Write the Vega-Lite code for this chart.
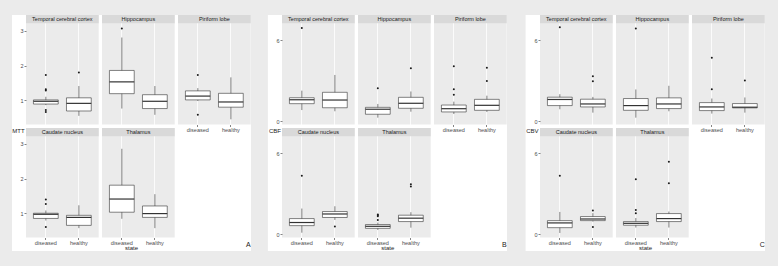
{
  "$schema": "https://vega.github.io/schema/vega-lite/v6.json",
  "background": "white",
  "padding": 0,
  "spacing": 0,
  "datasets": {
    "rows": [
      {"card":"A","region":"Temporal cerebral cortex","state":"diseased","kind":"box","lower":0.86,"q1":0.89,"median":0.97,"q3":1.01,"upper":1.10},
      {"card":"A","region":"Temporal cerebral cortex","state":"healthy","kind":"box","lower":0.55,"q1":0.69,"median":0.91,"q3":1.07,"upper":1.41},
      {"card":"A","region":"Hippocampus","state":"diseased","kind":"box","lower":0.76,"q1":1.19,"median":1.53,"q3":1.86,"upper":2.81},
      {"card":"A","region":"Hippocampus","state":"healthy","kind":"box","lower":0.58,"q1":0.76,"median":0.97,"q3":1.16,"upper":1.41},
      {"card":"A","region":"Piriform lobe","state":"diseased","kind":"box","lower":0.98,"q1":1.01,"median":1.12,"q3":1.27,"upper":1.35},
      {"card":"A","region":"Piriform lobe","state":"healthy","kind":"box","lower":0.45,"q1":0.80,"median":0.95,"q3":1.20,"upper":1.66},
      {"card":"A","region":"Caudate nucleus","state":"diseased","kind":"box","lower":0.79,"q1":0.85,"median":0.97,"q3":1.00,"upper":1.08},
      {"card":"A","region":"Caudate nucleus","state":"healthy","kind":"box","lower":0.57,"q1":0.65,"median":0.88,"q3":0.94,"upper":1.23},
      {"card":"A","region":"Thalamus","state":"diseased","kind":"box","lower":0.84,"q1":1.03,"median":1.41,"q3":1.81,"upper":2.86},
      {"card":"A","region":"Thalamus","state":"healthy","kind":"box","lower":0.57,"q1":0.88,"median":0.99,"q3":1.21,"upper":1.55},
      {"card":"A","region":"Temporal cerebral cortex","state":"diseased","kind":"out","value":1.73},
      {"card":"A","region":"Temporal cerebral cortex","state":"diseased","kind":"out","value":1.32},
      {"card":"A","region":"Temporal cerebral cortex","state":"diseased","kind":"out","value":1.28},
      {"card":"A","region":"Temporal cerebral cortex","state":"diseased","kind":"out","value":0.72},
      {"card":"A","region":"Temporal cerebral cortex","state":"diseased","kind":"out","value":0.66},
      {"card":"A","region":"Temporal cerebral cortex","state":"healthy","kind":"out","value":1.80},
      {"card":"A","region":"Hippocampus","state":"diseased","kind":"out","value":3.07},
      {"card":"A","region":"Piriform lobe","state":"diseased","kind":"out","value":1.73},
      {"card":"A","region":"Piriform lobe","state":"diseased","kind":"out","value":0.58},
      {"card":"A","region":"Caudate nucleus","state":"diseased","kind":"out","value":1.40},
      {"card":"A","region":"Caudate nucleus","state":"diseased","kind":"out","value":1.27},
      {"card":"A","region":"Caudate nucleus","state":"diseased","kind":"out","value":0.60},

      {"card":"B","region":"Temporal cerebral cortex","state":"diseased","kind":"box","lower":0.83,"q1":1.30,"median":1.59,"q3":1.74,"upper":2.26},
      {"card":"B","region":"Temporal cerebral cortex","state":"healthy","kind":"box","lower":0.74,"q1":1.00,"median":1.57,"q3":2.14,"upper":3.42},
      {"card":"B","region":"Hippocampus","state":"diseased","kind":"box","lower":0.27,"q1":0.52,"median":0.89,"q3":1.03,"upper":1.28},
      {"card":"B","region":"Hippocampus","state":"healthy","kind":"box","lower":0.71,"q1":0.96,"median":1.33,"q3":1.77,"upper":2.20},
      {"card":"B","region":"Piriform lobe","state":"diseased","kind":"box","lower":0.54,"q1":0.69,"median":0.93,"q3":1.20,"upper":1.45},
      {"card":"B","region":"Piriform lobe","state":"healthy","kind":"box","lower":0.69,"q1":0.81,"median":1.18,"q3":1.62,"upper":1.89},
      {"card":"B","region":"Caudate nucleus","state":"diseased","kind":"box","lower":0.12,"q1":0.64,"median":0.87,"q3":1.16,"upper":1.90},
      {"card":"B","region":"Caudate nucleus","state":"healthy","kind":"box","lower":1.06,"q1":1.24,"median":1.50,"q3":1.68,"upper":2.07},
      {"card":"B","region":"Thalamus","state":"diseased","kind":"box","lower":0.32,"q1":0.44,"median":0.59,"q3":0.72,"upper":0.86},
      {"card":"B","region":"Thalamus","state":"healthy","kind":"box","lower":0.49,"q1":0.94,"median":1.19,"q3":1.41,"upper":1.63},
      {"card":"B","region":"Temporal cerebral cortex","state":"diseased","kind":"out","value":6.89},
      {"card":"B","region":"Hippocampus","state":"diseased","kind":"out","value":2.44},
      {"card":"B","region":"Hippocampus","state":"healthy","kind":"out","value":3.91},
      {"card":"B","region":"Piriform lobe","state":"diseased","kind":"out","value":4.06},
      {"card":"B","region":"Piriform lobe","state":"diseased","kind":"out","value":2.36},
      {"card":"B","region":"Piriform lobe","state":"diseased","kind":"out","value":1.96},
      {"card":"B","region":"Piriform lobe","state":"healthy","kind":"out","value":3.96},
      {"card":"B","region":"Piriform lobe","state":"healthy","kind":"out","value":2.97},
      {"card":"B","region":"Caudate nucleus","state":"diseased","kind":"out","value":4.32},
      {"card":"B","region":"Caudate nucleus","state":"healthy","kind":"out","value":0.57},
      {"card":"B","region":"Thalamus","state":"diseased","kind":"out","value":1.46},
      {"card":"B","region":"Thalamus","state":"diseased","kind":"out","value":1.40},
      {"card":"B","region":"Thalamus","state":"diseased","kind":"out","value":1.33},
      {"card":"B","region":"Thalamus","state":"diseased","kind":"out","value":1.05},
      {"card":"B","region":"Thalamus","state":"healthy","kind":"out","value":3.70},
      {"card":"B","region":"Thalamus","state":"healthy","kind":"out","value":3.53},

      {"card":"C","region":"Temporal cerebral cortex","state":"diseased","kind":"box","lower":0.89,"q1":1.16,"median":1.61,"q3":1.78,"upper":2.00},
      {"card":"C","region":"Temporal cerebral cortex","state":"healthy","kind":"box","lower":0.64,"q1":1.06,"median":1.28,"q3":1.63,"upper":1.80},
      {"card":"C","region":"Hippocampus","state":"diseased","kind":"box","lower":0.27,"q1":0.81,"median":1.16,"q3":1.68,"upper":2.35},
      {"card":"C","region":"Hippocampus","state":"healthy","kind":"box","lower":0.74,"q1":0.94,"median":1.28,"q3":1.73,"upper":2.62},
      {"card":"C","region":"Piriform lobe","state":"diseased","kind":"box","lower":0.57,"q1":0.79,"median":1.06,"q3":1.38,"upper":1.68},
      {"card":"C","region":"Piriform lobe","state":"healthy","kind":"box","lower":0.64,"q1":0.99,"median":1.04,"q3":1.31,"upper":1.76},
      {"card":"C","region":"Caudate nucleus","state":"diseased","kind":"box","lower":0.10,"q1":0.49,"median":0.84,"q3":1.01,"upper":1.65},
      {"card":"C","region":"Caudate nucleus","state":"healthy","kind":"box","lower":0.94,"q1":1.01,"median":1.13,"q3":1.31,"upper":1.56},
      {"card":"C","region":"Thalamus","state":"diseased","kind":"box","lower":0.50,"q1":0.67,"median":0.81,"q3":0.94,"upper":1.20},
      {"card":"C","region":"Thalamus","state":"healthy","kind":"box","lower":0.50,"q1":0.94,"median":1.16,"q3":1.53,"upper":1.68},
      {"card":"C","region":"Temporal cerebral cortex","state":"diseased","kind":"out","value":6.94},
      {"card":"C","region":"Temporal cerebral cortex","state":"healthy","kind":"out","value":3.33},
      {"card":"C","region":"Temporal cerebral cortex","state":"healthy","kind":"out","value":2.96},
      {"card":"C","region":"Hippocampus","state":"diseased","kind":"out","value":6.84},
      {"card":"C","region":"Piriform lobe","state":"diseased","kind":"out","value":4.69},
      {"card":"C","region":"Piriform lobe","state":"diseased","kind":"out","value":2.37},
      {"card":"C","region":"Piriform lobe","state":"healthy","kind":"out","value":3.01},
      {"card":"C","region":"Caudate nucleus","state":"diseased","kind":"out","value":4.32},
      {"card":"C","region":"Caudate nucleus","state":"healthy","kind":"out","value":1.76},
      {"card":"C","region":"Caudate nucleus","state":"healthy","kind":"out","value":0.54},
      {"card":"C","region":"Thalamus","state":"diseased","kind":"out","value":4.07},
      {"card":"C","region":"Thalamus","state":"diseased","kind":"out","value":1.80},
      {"card":"C","region":"Thalamus","state":"diseased","kind":"out","value":1.56},
      {"card":"C","region":"Thalamus","state":"healthy","kind":"out","value":5.36},
      {"card":"C","region":"Thalamus","state":"healthy","kind":"out","value":3.76}
    ]
  },
  "vconcat": [
    {"width": 778, "height": 15, "view": {"fill": "#ebebeb", "stroke": null}, "data": {"values": [{}]}, "mark": {"type": "point", "opacity": 0}},
    {
      "spacing": 0,
      "hconcat": [
        {"width": 12, "height": 236, "view": {"fill": "#ebebeb", "stroke": null}, "data": {"values": [{}]}, "mark": {"type": "point", "opacity": 0}},
        {
          "title": {"text": "A", "orient": "bottom", "anchor": "end", "offset": -10, "fontSize": 7},
          "vconcat": [{
            "title": {"text": "state", "orient": "bottom", "anchor": "middle", "offset": -1, "fontSize": 6},
            "vconcat": [{
              "title": {"text": "MTT", "orient": "left", "anchor": "middle", "angle": 0, "align": "right", "baseline": "middle", "offset": -17, "fontSize": 6},
              "columns": 3, "spacing": 3, "bounds": "flush",
              "concat": [
                {"data": {"name": "rows"}, "transform": [{"filter": "datum.card == 'A' && datum.region == 'Temporal cerebral cortex'"}], "width": 72.7, "height": 109.5,
                 "layer": [
                  {"transform": [{"filter": "datum.kind == 'box' && datum.state == 'diseased'"}], "mark": "rect",
                   "encoding": {"y": {"datum": 3.22, "type": "quantitative", "title": null, "scale": {"domain": [0.3, 3.46], "nice": false, "zero": false}, "axis": {"values": [1, 2, 3]}}, "y2": {"datum": 3.46}}},
                  {"transform": [{"filter": "datum.kind == 'box' && datum.state == 'diseased'"}], "mark": "text",
                   "encoding": {"text": {"field": "region"}, "y": {"datum": 3.34, "type": "quantitative", "title": null}}},
                  {"transform": [{"filter": "datum.kind == 'box'"}], "mark": "rule",
                   "encoding": {"x": {"field": "state", "type": "nominal", "title": null, "scale": {"domain": ["diseased", "healthy"], "paddingInner": 0.25, "paddingOuter": 0.225}, "axis": {"labels": false, "ticks": false}},
                     "y": {"field": "lower", "type": "quantitative", "title": null}, "y2": {"field": "upper"}}},
                  {"transform": [{"filter": "datum.kind == 'box'"}], "mark": "bar",
                   "encoding": {"x": {"field": "state", "type": "nominal", "title": null}, "y": {"field": "q1", "type": "quantitative", "title": null}, "y2": {"field": "q3"}}},
                  {"transform": [{"filter": "datum.kind == 'box'"}], "mark": "tick",
                   "encoding": {"x": {"field": "state", "type": "nominal", "title": null}, "y": {"field": "median", "type": "quantitative", "title": null}}},
                  {"transform": [{"filter": "datum.kind == 'out'"}], "mark": "circle",
                   "encoding": {"x": {"field": "state", "type": "nominal", "title": null}, "y": {"field": "value", "type": "quantitative", "title": null}}}
                 ]},
                {"data": {"name": "rows"}, "transform": [{"filter": "datum.card == 'A' && datum.region == 'Hippocampus'"}], "width": 72.7, "height": 109.5,
                 "layer": [
                  {"transform": [{"filter": "datum.kind == 'box' && datum.state == 'diseased'"}], "mark": "rect",
                   "encoding": {"y": {"datum": 3.22, "type": "quantitative", "title": null, "scale": {"domain": [0.3, 3.46], "nice": false, "zero": false}, "axis": {"values": [1, 2, 3], "labels": false, "ticks": false}}, "y2": {"datum": 3.46}}},
                  {"transform": [{"filter": "datum.kind == 'box' && datum.state == 'diseased'"}], "mark": "text",
                   "encoding": {"text": {"field": "region"}, "y": {"datum": 3.34, "type": "quantitative", "title": null}}},
                  {"transform": [{"filter": "datum.kind == 'box'"}], "mark": "rule",
                   "encoding": {"x": {"field": "state", "type": "nominal", "title": null, "scale": {"domain": ["diseased", "healthy"], "paddingInner": 0.25, "paddingOuter": 0.225}, "axis": {"labels": false, "ticks": false}},
                     "y": {"field": "lower", "type": "quantitative", "title": null}, "y2": {"field": "upper"}}},
                  {"transform": [{"filter": "datum.kind == 'box'"}], "mark": "bar",
                   "encoding": {"x": {"field": "state", "type": "nominal", "title": null}, "y": {"field": "q1", "type": "quantitative", "title": null}, "y2": {"field": "q3"}}},
                  {"transform": [{"filter": "datum.kind == 'box'"}], "mark": "tick",
                   "encoding": {"x": {"field": "state", "type": "nominal", "title": null}, "y": {"field": "median", "type": "quantitative", "title": null}}},
                  {"transform": [{"filter": "datum.kind == 'out'"}], "mark": "circle",
                   "encoding": {"x": {"field": "state", "type": "nominal", "title": null}, "y": {"field": "value", "type": "quantitative", "title": null}}}
                 ]},
                {"data": {"name": "rows"}, "transform": [{"filter": "datum.card == 'A' && datum.region == 'Piriform lobe'"}], "width": 72.7, "height": 109.5,
                 "layer": [
                  {"transform": [{"filter": "datum.kind == 'box' && datum.state == 'diseased'"}], "mark": "rect",
                   "encoding": {"y": {"datum": 3.22, "type": "quantitative", "title": null, "scale": {"domain": [0.3, 3.46], "nice": false, "zero": false}, "axis": {"values": [1, 2, 3], "labels": false, "ticks": false}}, "y2": {"datum": 3.46}}},
                  {"transform": [{"filter": "datum.kind == 'box' && datum.state == 'diseased'"}], "mark": "text",
                   "encoding": {"text": {"field": "region"}, "y": {"datum": 3.34, "type": "quantitative", "title": null}}},
                  {"transform": [{"filter": "datum.kind == 'box'"}], "mark": "rule",
                   "encoding": {"x": {"field": "state", "type": "nominal", "title": null, "scale": {"domain": ["diseased", "healthy"], "paddingInner": 0.25, "paddingOuter": 0.225}},
                     "y": {"field": "lower", "type": "quantitative", "title": null}, "y2": {"field": "upper"}}},
                  {"transform": [{"filter": "datum.kind == 'box'"}], "mark": "bar",
                   "encoding": {"x": {"field": "state", "type": "nominal", "title": null}, "y": {"field": "q1", "type": "quantitative", "title": null}, "y2": {"field": "q3"}}},
                  {"transform": [{"filter": "datum.kind == 'box'"}], "mark": "tick",
                   "encoding": {"x": {"field": "state", "type": "nominal", "title": null}, "y": {"field": "median", "type": "quantitative", "title": null}}},
                  {"transform": [{"filter": "datum.kind == 'out'"}], "mark": "circle",
                   "encoding": {"x": {"field": "state", "type": "nominal", "title": null}, "y": {"field": "value", "type": "quantitative", "title": null}}}
                 ]},
                {"data": {"name": "rows"}, "transform": [{"filter": "datum.card == 'A' && datum.region == 'Caudate nucleus'"}], "width": 72.7, "height": 109.5,
                 "layer": [
                  {"transform": [{"filter": "datum.kind == 'box' && datum.state == 'diseased'"}], "mark": "rect",
                   "encoding": {"y": {"datum": 3.22, "type": "quantitative", "title": null, "scale": {"domain": [0.3, 3.46], "nice": false, "zero": false}, "axis": {"values": [1, 2, 3]}}, "y2": {"datum": 3.46}}},
                  {"transform": [{"filter": "datum.kind == 'box' && datum.state == 'diseased'"}], "mark": "text",
                   "encoding": {"text": {"field": "region"}, "y": {"datum": 3.34, "type": "quantitative", "title": null}}},
                  {"transform": [{"filter": "datum.kind == 'box'"}], "mark": "rule",
                   "encoding": {"x": {"field": "state", "type": "nominal", "title": null, "scale": {"domain": ["diseased", "healthy"], "paddingInner": 0.25, "paddingOuter": 0.225}},
                     "y": {"field": "lower", "type": "quantitative", "title": null}, "y2": {"field": "upper"}}},
                  {"transform": [{"filter": "datum.kind == 'box'"}], "mark": "bar",
                   "encoding": {"x": {"field": "state", "type": "nominal", "title": null}, "y": {"field": "q1", "type": "quantitative", "title": null}, "y2": {"field": "q3"}}},
                  {"transform": [{"filter": "datum.kind == 'box'"}], "mark": "tick",
                   "encoding": {"x": {"field": "state", "type": "nominal", "title": null}, "y": {"field": "median", "type": "quantitative", "title": null}}},
                  {"transform": [{"filter": "datum.kind == 'out'"}], "mark": "circle",
                   "encoding": {"x": {"field": "state", "type": "nominal", "title": null}, "y": {"field": "value", "type": "quantitative", "title": null}}}
                 ]},
                {"data": {"name": "rows"}, "transform": [{"filter": "datum.card == 'A' && datum.region == 'Thalamus'"}], "width": 72.7, "height": 109.5,
                 "layer": [
                  {"transform": [{"filter": "datum.kind == 'box' && datum.state == 'diseased'"}], "mark": "rect",
                   "encoding": {"y": {"datum": 3.22, "type": "quantitative", "title": null, "scale": {"domain": [0.3, 3.46], "nice": false, "zero": false}, "axis": {"values": [1, 2, 3], "labels": false, "ticks": false}}, "y2": {"datum": 3.46}}},
                  {"transform": [{"filter": "datum.kind == 'box' && datum.state == 'diseased'"}], "mark": "text",
                   "encoding": {"text": {"field": "region"}, "y": {"datum": 3.34, "type": "quantitative", "title": null}}},
                  {"transform": [{"filter": "datum.kind == 'box'"}], "mark": "rule",
                   "encoding": {"x": {"field": "state", "type": "nominal", "title": null, "scale": {"domain": ["diseased", "healthy"], "paddingInner": 0.25, "paddingOuter": 0.225}},
                     "y": {"field": "lower", "type": "quantitative", "title": null}, "y2": {"field": "upper"}}},
                  {"transform": [{"filter": "datum.kind == 'box'"}], "mark": "bar",
                   "encoding": {"x": {"field": "state", "type": "nominal", "title": null}, "y": {"field": "q1", "type": "quantitative", "title": null}, "y2": {"field": "q3"}}},
                  {"transform": [{"filter": "datum.kind == 'box'"}], "mark": "tick",
                   "encoding": {"x": {"field": "state", "type": "nominal", "title": null}, "y": {"field": "median", "type": "quantitative", "title": null}}},
                  {"transform": [{"filter": "datum.kind == 'out'"}], "mark": "circle",
                   "encoding": {"x": {"field": "state", "type": "nominal", "title": null}, "y": {"field": "value", "type": "quantitative", "title": null}}}
                 ]}
              ]
            }]
          }]
        },
        {"width": 16.9, "height": 236, "view": {"fill": "#ebebeb", "stroke": null}, "data": {"values": [{}]}, "mark": {"type": "point", "opacity": 0}},
        {
          "title": {"text": "B", "orient": "bottom", "anchor": "end", "offset": -10, "fontSize": 7},
          "vconcat": [{
            "title": {"text": "state", "orient": "bottom", "anchor": "middle", "offset": -1, "fontSize": 6},
            "vconcat": [{
              "title": {"text": "CBF", "orient": "left", "anchor": "middle", "angle": 0, "align": "right", "baseline": "middle", "offset": -17, "fontSize": 6},
              "columns": 3, "spacing": 3, "bounds": "flush",
              "concat": [
                {"data": {"name": "rows"}, "transform": [{"filter": "datum.card == 'B' && datum.region == 'Temporal cerebral cortex'"}], "width": 72.7, "height": 109.5,
                 "layer": [
                  {"transform": [{"filter": "datum.kind == 'box' && datum.state == 'diseased'"}], "mark": "rect",
                   "encoding": {"y": {"datum": 7.232, "type": "quantitative", "title": null, "scale": {"domain": [-0.236, 7.845], "nice": false, "zero": false}, "axis": {"values": [0, 2, 4, 6]}}, "y2": {"datum": 7.845}}},
                  {"transform": [{"filter": "datum.kind == 'box' && datum.state == 'diseased'"}], "mark": "text",
                   "encoding": {"text": {"field": "region"}, "y": {"datum": 7.54, "type": "quantitative", "title": null}}},
                  {"transform": [{"filter": "datum.kind == 'box'"}], "mark": "rule",
                   "encoding": {"x": {"field": "state", "type": "nominal", "title": null, "scale": {"domain": ["diseased", "healthy"], "paddingInner": 0.25, "paddingOuter": 0.225}, "axis": {"labels": false, "ticks": false}},
                     "y": {"field": "lower", "type": "quantitative", "title": null}, "y2": {"field": "upper"}}},
                  {"transform": [{"filter": "datum.kind == 'box'"}], "mark": "bar",
                   "encoding": {"x": {"field": "state", "type": "nominal", "title": null}, "y": {"field": "q1", "type": "quantitative", "title": null}, "y2": {"field": "q3"}}},
                  {"transform": [{"filter": "datum.kind == 'box'"}], "mark": "tick",
                   "encoding": {"x": {"field": "state", "type": "nominal", "title": null}, "y": {"field": "median", "type": "quantitative", "title": null}}},
                  {"transform": [{"filter": "datum.kind == 'out'"}], "mark": "circle",
                   "encoding": {"x": {"field": "state", "type": "nominal", "title": null}, "y": {"field": "value", "type": "quantitative", "title": null}}}
                 ]},
                {"data": {"name": "rows"}, "transform": [{"filter": "datum.card == 'B' && datum.region == 'Hippocampus'"}], "width": 72.7, "height": 109.5,
                 "layer": [
                  {"transform": [{"filter": "datum.kind == 'box' && datum.state == 'diseased'"}], "mark": "rect",
                   "encoding": {"y": {"datum": 7.232, "type": "quantitative", "title": null, "scale": {"domain": [-0.236, 7.845], "nice": false, "zero": false}, "axis": {"values": [0, 2, 4, 6], "labels": false, "ticks": false}}, "y2": {"datum": 7.845}}},
                  {"transform": [{"filter": "datum.kind == 'box' && datum.state == 'diseased'"}], "mark": "text",
                   "encoding": {"text": {"field": "region"}, "y": {"datum": 7.54, "type": "quantitative", "title": null}}},
                  {"transform": [{"filter": "datum.kind == 'box'"}], "mark": "rule",
                   "encoding": {"x": {"field": "state", "type": "nominal", "title": null, "scale": {"domain": ["diseased", "healthy"], "paddingInner": 0.25, "paddingOuter": 0.225}, "axis": {"labels": false, "ticks": false}},
                     "y": {"field": "lower", "type": "quantitative", "title": null}, "y2": {"field": "upper"}}},
                  {"transform": [{"filter": "datum.kind == 'box'"}], "mark": "bar",
                   "encoding": {"x": {"field": "state", "type": "nominal", "title": null}, "y": {"field": "q1", "type": "quantitative", "title": null}, "y2": {"field": "q3"}}},
                  {"transform": [{"filter": "datum.kind == 'box'"}], "mark": "tick",
                   "encoding": {"x": {"field": "state", "type": "nominal", "title": null}, "y": {"field": "median", "type": "quantitative", "title": null}}},
                  {"transform": [{"filter": "datum.kind == 'out'"}], "mark": "circle",
                   "encoding": {"x": {"field": "state", "type": "nominal", "title": null}, "y": {"field": "value", "type": "quantitative", "title": null}}}
                 ]},
                {"data": {"name": "rows"}, "transform": [{"filter": "datum.card == 'B' && datum.region == 'Piriform lobe'"}], "width": 72.7, "height": 109.5,
                 "layer": [
                  {"transform": [{"filter": "datum.kind == 'box' && datum.state == 'diseased'"}], "mark": "rect",
                   "encoding": {"y": {"datum": 7.232, "type": "quantitative", "title": null, "scale": {"domain": [-0.236, 7.845], "nice": false, "zero": false}, "axis": {"values": [0, 2, 4, 6], "labels": false, "ticks": false}}, "y2": {"datum": 7.845}}},
                  {"transform": [{"filter": "datum.kind == 'box' && datum.state == 'diseased'"}], "mark": "text",
                   "encoding": {"text": {"field": "region"}, "y": {"datum": 7.54, "type": "quantitative", "title": null}}},
                  {"transform": [{"filter": "datum.kind == 'box'"}], "mark": "rule",
                   "encoding": {"x": {"field": "state", "type": "nominal", "title": null, "scale": {"domain": ["diseased", "healthy"], "paddingInner": 0.25, "paddingOuter": 0.225}},
                     "y": {"field": "lower", "type": "quantitative", "title": null}, "y2": {"field": "upper"}}},
                  {"transform": [{"filter": "datum.kind == 'box'"}], "mark": "bar",
                   "encoding": {"x": {"field": "state", "type": "nominal", "title": null}, "y": {"field": "q1", "type": "quantitative", "title": null}, "y2": {"field": "q3"}}},
                  {"transform": [{"filter": "datum.kind == 'box'"}], "mark": "tick",
                   "encoding": {"x": {"field": "state", "type": "nominal", "title": null}, "y": {"field": "median", "type": "quantitative", "title": null}}},
                  {"transform": [{"filter": "datum.kind == 'out'"}], "mark": "circle",
                   "encoding": {"x": {"field": "state", "type": "nominal", "title": null}, "y": {"field": "value", "type": "quantitative", "title": null}}}
                 ]},
                {"data": {"name": "rows"}, "transform": [{"filter": "datum.card == 'B' && datum.region == 'Caudate nucleus'"}], "width": 72.7, "height": 109.5,
                 "layer": [
                  {"transform": [{"filter": "datum.kind == 'box' && datum.state == 'diseased'"}], "mark": "rect",
                   "encoding": {"y": {"datum": 7.232, "type": "quantitative", "title": null, "scale": {"domain": [-0.236, 7.845], "nice": false, "zero": false}, "axis": {"values": [0, 2, 4, 6]}}, "y2": {"datum": 7.845}}},
                  {"transform": [{"filter": "datum.kind == 'box' && datum.state == 'diseased'"}], "mark": "text",
                   "encoding": {"text": {"field": "region"}, "y": {"datum": 7.54, "type": "quantitative", "title": null}}},
                  {"transform": [{"filter": "datum.kind == 'box'"}], "mark": "rule",
                   "encoding": {"x": {"field": "state", "type": "nominal", "title": null, "scale": {"domain": ["diseased", "healthy"], "paddingInner": 0.25, "paddingOuter": 0.225}},
                     "y": {"field": "lower", "type": "quantitative", "title": null}, "y2": {"field": "upper"}}},
                  {"transform": [{"filter": "datum.kind == 'box'"}], "mark": "bar",
                   "encoding": {"x": {"field": "state", "type": "nominal", "title": null}, "y": {"field": "q1", "type": "quantitative", "title": null}, "y2": {"field": "q3"}}},
                  {"transform": [{"filter": "datum.kind == 'box'"}], "mark": "tick",
                   "encoding": {"x": {"field": "state", "type": "nominal", "title": null}, "y": {"field": "median", "type": "quantitative", "title": null}}},
                  {"transform": [{"filter": "datum.kind == 'out'"}], "mark": "circle",
                   "encoding": {"x": {"field": "state", "type": "nominal", "title": null}, "y": {"field": "value", "type": "quantitative", "title": null}}}
                 ]},
                {"data": {"name": "rows"}, "transform": [{"filter": "datum.card == 'B' && datum.region == 'Thalamus'"}], "width": 72.7, "height": 109.5,
                 "layer": [
                  {"transform": [{"filter": "datum.kind == 'box' && datum.state == 'diseased'"}], "mark": "rect",
                   "encoding": {"y": {"datum": 7.232, "type": "quantitative", "title": null, "scale": {"domain": [-0.236, 7.845], "nice": false, "zero": false}, "axis": {"values": [0, 2, 4, 6], "labels": false, "ticks": false}}, "y2": {"datum": 7.845}}},
                  {"transform": [{"filter": "datum.kind == 'box' && datum.state == 'diseased'"}], "mark": "text",
                   "encoding": {"text": {"field": "region"}, "y": {"datum": 7.54, "type": "quantitative", "title": null}}},
                  {"transform": [{"filter": "datum.kind == 'box'"}], "mark": "rule",
                   "encoding": {"x": {"field": "state", "type": "nominal", "title": null, "scale": {"domain": ["diseased", "healthy"], "paddingInner": 0.25, "paddingOuter": 0.225}},
                     "y": {"field": "lower", "type": "quantitative", "title": null}, "y2": {"field": "upper"}}},
                  {"transform": [{"filter": "datum.kind == 'box'"}], "mark": "bar",
                   "encoding": {"x": {"field": "state", "type": "nominal", "title": null}, "y": {"field": "q1", "type": "quantitative", "title": null}, "y2": {"field": "q3"}}},
                  {"transform": [{"filter": "datum.kind == 'box'"}], "mark": "tick",
                   "encoding": {"x": {"field": "state", "type": "nominal", "title": null}, "y": {"field": "median", "type": "quantitative", "title": null}}},
                  {"transform": [{"filter": "datum.kind == 'out'"}], "mark": "circle",
                   "encoding": {"x": {"field": "state", "type": "nominal", "title": null}, "y": {"field": "value", "type": "quantitative", "title": null}}}
                 ]}
              ]
            }]
          }]
        },
        {"width": 18.6, "height": 236, "view": {"fill": "#ebebeb", "stroke": null}, "data": {"values": [{}]}, "mark": {"type": "point", "opacity": 0}},
        {
          "title": {"text": "C", "orient": "bottom", "anchor": "end", "offset": -10, "fontSize": 7},
          "vconcat": [{
            "title": {"text": "state", "orient": "bottom", "anchor": "middle", "offset": -1, "fontSize": 6},
            "vconcat": [{
              "title": {"text": "CBV", "orient": "left", "anchor": "middle", "angle": 0, "align": "right", "baseline": "middle", "offset": -17, "fontSize": 6},
              "columns": 3, "spacing": 3, "bounds": "flush",
              "concat": [
                {"data": {"name": "rows"}, "transform": [{"filter": "datum.card == 'C' && datum.region == 'Temporal cerebral cortex'"}], "width": 72.7, "height": 109.5,
                 "layer": [
                  {"transform": [{"filter": "datum.kind == 'box' && datum.state == 'diseased'"}], "mark": "rect",
                   "encoding": {"y": {"datum": 7.232, "type": "quantitative", "title": null, "scale": {"domain": [-0.236, 7.845], "nice": false, "zero": false}, "axis": {"values": [0, 2, 4, 6]}}, "y2": {"datum": 7.845}}},
                  {"transform": [{"filter": "datum.kind == 'box' && datum.state == 'diseased'"}], "mark": "text",
                   "encoding": {"text": {"field": "region"}, "y": {"datum": 7.54, "type": "quantitative", "title": null}}},
                  {"transform": [{"filter": "datum.kind == 'box'"}], "mark": "rule",
                   "encoding": {"x": {"field": "state", "type": "nominal", "title": null, "scale": {"domain": ["diseased", "healthy"], "paddingInner": 0.25, "paddingOuter": 0.225}, "axis": {"labels": false, "ticks": false}},
                     "y": {"field": "lower", "type": "quantitative", "title": null}, "y2": {"field": "upper"}}},
                  {"transform": [{"filter": "datum.kind == 'box'"}], "mark": "bar",
                   "encoding": {"x": {"field": "state", "type": "nominal", "title": null}, "y": {"field": "q1", "type": "quantitative", "title": null}, "y2": {"field": "q3"}}},
                  {"transform": [{"filter": "datum.kind == 'box'"}], "mark": "tick",
                   "encoding": {"x": {"field": "state", "type": "nominal", "title": null}, "y": {"field": "median", "type": "quantitative", "title": null}}},
                  {"transform": [{"filter": "datum.kind == 'out'"}], "mark": "circle",
                   "encoding": {"x": {"field": "state", "type": "nominal", "title": null}, "y": {"field": "value", "type": "quantitative", "title": null}}}
                 ]},
                {"data": {"name": "rows"}, "transform": [{"filter": "datum.card == 'C' && datum.region == 'Hippocampus'"}], "width": 72.7, "height": 109.5,
                 "layer": [
                  {"transform": [{"filter": "datum.kind == 'box' && datum.state == 'diseased'"}], "mark": "rect",
                   "encoding": {"y": {"datum": 7.232, "type": "quantitative", "title": null, "scale": {"domain": [-0.236, 7.845], "nice": false, "zero": false}, "axis": {"values": [0, 2, 4, 6], "labels": false, "ticks": false}}, "y2": {"datum": 7.845}}},
                  {"transform": [{"filter": "datum.kind == 'box' && datum.state == 'diseased'"}], "mark": "text",
                   "encoding": {"text": {"field": "region"}, "y": {"datum": 7.54, "type": "quantitative", "title": null}}},
                  {"transform": [{"filter": "datum.kind == 'box'"}], "mark": "rule",
                   "encoding": {"x": {"field": "state", "type": "nominal", "title": null, "scale": {"domain": ["diseased", "healthy"], "paddingInner": 0.25, "paddingOuter": 0.225}, "axis": {"labels": false, "ticks": false}},
                     "y": {"field": "lower", "type": "quantitative", "title": null}, "y2": {"field": "upper"}}},
                  {"transform": [{"filter": "datum.kind == 'box'"}], "mark": "bar",
                   "encoding": {"x": {"field": "state", "type": "nominal", "title": null}, "y": {"field": "q1", "type": "quantitative", "title": null}, "y2": {"field": "q3"}}},
                  {"transform": [{"filter": "datum.kind == 'box'"}], "mark": "tick",
                   "encoding": {"x": {"field": "state", "type": "nominal", "title": null}, "y": {"field": "median", "type": "quantitative", "title": null}}},
                  {"transform": [{"filter": "datum.kind == 'out'"}], "mark": "circle",
                   "encoding": {"x": {"field": "state", "type": "nominal", "title": null}, "y": {"field": "value", "type": "quantitative", "title": null}}}
                 ]},
                {"data": {"name": "rows"}, "transform": [{"filter": "datum.card == 'C' && datum.region == 'Piriform lobe'"}], "width": 72.7, "height": 109.5,
                 "layer": [
                  {"transform": [{"filter": "datum.kind == 'box' && datum.state == 'diseased'"}], "mark": "rect",
                   "encoding": {"y": {"datum": 7.232, "type": "quantitative", "title": null, "scale": {"domain": [-0.236, 7.845], "nice": false, "zero": false}, "axis": {"values": [0, 2, 4, 6], "labels": false, "ticks": false}}, "y2": {"datum": 7.845}}},
                  {"transform": [{"filter": "datum.kind == 'box' && datum.state == 'diseased'"}], "mark": "text",
                   "encoding": {"text": {"field": "region"}, "y": {"datum": 7.54, "type": "quantitative", "title": null}}},
                  {"transform": [{"filter": "datum.kind == 'box'"}], "mark": "rule",
                   "encoding": {"x": {"field": "state", "type": "nominal", "title": null, "scale": {"domain": ["diseased", "healthy"], "paddingInner": 0.25, "paddingOuter": 0.225}},
                     "y": {"field": "lower", "type": "quantitative", "title": null}, "y2": {"field": "upper"}}},
                  {"transform": [{"filter": "datum.kind == 'box'"}], "mark": "bar",
                   "encoding": {"x": {"field": "state", "type": "nominal", "title": null}, "y": {"field": "q1", "type": "quantitative", "title": null}, "y2": {"field": "q3"}}},
                  {"transform": [{"filter": "datum.kind == 'box'"}], "mark": "tick",
                   "encoding": {"x": {"field": "state", "type": "nominal", "title": null}, "y": {"field": "median", "type": "quantitative", "title": null}}},
                  {"transform": [{"filter": "datum.kind == 'out'"}], "mark": "circle",
                   "encoding": {"x": {"field": "state", "type": "nominal", "title": null}, "y": {"field": "value", "type": "quantitative", "title": null}}}
                 ]},
                {"data": {"name": "rows"}, "transform": [{"filter": "datum.card == 'C' && datum.region == 'Caudate nucleus'"}], "width": 72.7, "height": 109.5,
                 "layer": [
                  {"transform": [{"filter": "datum.kind == 'box' && datum.state == 'diseased'"}], "mark": "rect",
                   "encoding": {"y": {"datum": 7.232, "type": "quantitative", "title": null, "scale": {"domain": [-0.236, 7.845], "nice": false, "zero": false}, "axis": {"values": [0, 2, 4, 6]}}, "y2": {"datum": 7.845}}},
                  {"transform": [{"filter": "datum.kind == 'box' && datum.state == 'diseased'"}], "mark": "text",
                   "encoding": {"text": {"field": "region"}, "y": {"datum": 7.54, "type": "quantitative", "title": null}}},
                  {"transform": [{"filter": "datum.kind == 'box'"}], "mark": "rule",
                   "encoding": {"x": {"field": "state", "type": "nominal", "title": null, "scale": {"domain": ["diseased", "healthy"], "paddingInner": 0.25, "paddingOuter": 0.225}},
                     "y": {"field": "lower", "type": "quantitative", "title": null}, "y2": {"field": "upper"}}},
                  {"transform": [{"filter": "datum.kind == 'box'"}], "mark": "bar",
                   "encoding": {"x": {"field": "state", "type": "nominal", "title": null}, "y": {"field": "q1", "type": "quantitative", "title": null}, "y2": {"field": "q3"}}},
                  {"transform": [{"filter": "datum.kind == 'box'"}], "mark": "tick",
                   "encoding": {"x": {"field": "state", "type": "nominal", "title": null}, "y": {"field": "median", "type": "quantitative", "title": null}}},
                  {"transform": [{"filter": "datum.kind == 'out'"}], "mark": "circle",
                   "encoding": {"x": {"field": "state", "type": "nominal", "title": null}, "y": {"field": "value", "type": "quantitative", "title": null}}}
                 ]},
                {"data": {"name": "rows"}, "transform": [{"filter": "datum.card == 'C' && datum.region == 'Thalamus'"}], "width": 72.7, "height": 109.5,
                 "layer": [
                  {"transform": [{"filter": "datum.kind == 'box' && datum.state == 'diseased'"}], "mark": "rect",
                   "encoding": {"y": {"datum": 7.232, "type": "quantitative", "title": null, "scale": {"domain": [-0.236, 7.845], "nice": false, "zero": false}, "axis": {"values": [0, 2, 4, 6], "labels": false, "ticks": false}}, "y2": {"datum": 7.845}}},
                  {"transform": [{"filter": "datum.kind == 'box' && datum.state == 'diseased'"}], "mark": "text",
                   "encoding": {"text": {"field": "region"}, "y": {"datum": 7.54, "type": "quantitative", "title": null}}},
                  {"transform": [{"filter": "datum.kind == 'box'"}], "mark": "rule",
                   "encoding": {"x": {"field": "state", "type": "nominal", "title": null, "scale": {"domain": ["diseased", "healthy"], "paddingInner": 0.25, "paddingOuter": 0.225}},
                     "y": {"field": "lower", "type": "quantitative", "title": null}, "y2": {"field": "upper"}}},
                  {"transform": [{"filter": "datum.kind == 'box'"}], "mark": "bar",
                   "encoding": {"x": {"field": "state", "type": "nominal", "title": null}, "y": {"field": "q1", "type": "quantitative", "title": null}, "y2": {"field": "q3"}}},
                  {"transform": [{"filter": "datum.kind == 'box'"}], "mark": "tick",
                   "encoding": {"x": {"field": "state", "type": "nominal", "title": null}, "y": {"field": "median", "type": "quantitative", "title": null}}},
                  {"transform": [{"filter": "datum.kind == 'out'"}], "mark": "circle",
                   "encoding": {"x": {"field": "state", "type": "nominal", "title": null}, "y": {"field": "value", "type": "quantitative", "title": null}}}
                 ]}
              ]
            }]
          }]
        },
        {"width": 16.2, "height": 236, "view": {"fill": "#ebebeb", "stroke": null}, "data": {"values": [{}]}, "mark": {"type": "point", "opacity": 0}}
      ]
    },
    {"width": 778, "height": 15, "view": {"fill": "#ebebeb", "stroke": null}, "data": {"values": [{}]}, "mark": {"type": "point", "opacity": 0}}
  ],
  "config": {
    "font": "Liberation Sans",
    "view": {"fill": "#ebebeb", "stroke": null},
    "rect": {"color": "#d9d9d9"},
    "text": {"fontSize": 5.5, "color": "#1a1a1a", "baseline": "middle"},
    "rule": {"color": "#333333", "strokeWidth": 0.6},
    "bar": {"fill": "white", "stroke": "#333333", "strokeWidth": 0.6},
    "tick": {"color": "#333333", "size": 24.8, "thickness": 1.2, "opacity": 1},
    "circle": {"size": 4, "color": "#1a1a1a", "opacity": 1},
    "axis": {"labelFontSize": 5.5, "labelColor": "#4d4d4d", "tickColor": "#333333", "tickSize": 2, "tickWidth": 0.6, "labelPadding": 1, "domain": false, "gridColor": "#ffffff", "gridWidth": 0.8, "labelOverlap": false},
    "axisX": {"labelAngle": 0, "grid": true, "bandPosition": 0.5},
    "title": {"fontSize": 6, "fontWeight": "normal", "color": "#1a1a1a", "font": "Liberation Sans"}
  }
}
